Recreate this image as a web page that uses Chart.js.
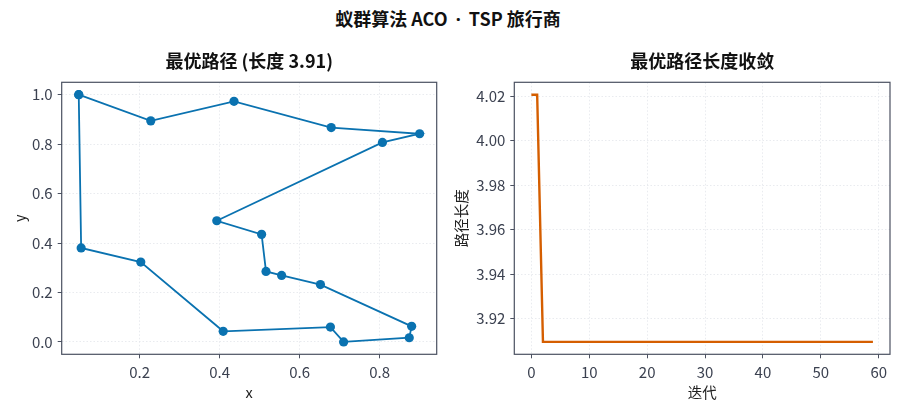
<!DOCTYPE html>
<html>
<head>
<meta charset="utf-8">
<script src="https://cdn.jsdelivr.net/npm/chart.js@4.4.1/dist/chart.umd.min.js"></script>
<style>
  body { margin: 0; background: #fff; }
  #page { position: relative; width: 900px; height: 411px; overflow: hidden; }
  #suptitle {
    position: absolute; left: 0; top: 5px; width: 896px; text-align: center;
    font-family: "Noto Sans CJK SC", "Noto Sans", sans-serif; font-weight: bold;
    font-size: 18px; color: #111;
  }
  #suptitle .dot { font-family: "Noto Sans", sans-serif; margin: 0 4px; }
  .panel { position: absolute; top: 40px; width: 450px; height: 371px; }
</style>
</head>
<body>
<div id="page">
  <div id="suptitle">蚁群算法 ACO <span class="dot">·</span> TSP 旅行商</div>
  <div class="panel" style="left:0"><canvas id="routeChart" width="450" height="371"></canvas></div>
  <div class="panel" style="left:450px"><canvas id="convChart" width="450" height="371"></canvas></div>
</div>
<script>
// best tour, in visiting order (first city repeated to close the loop)
const routeX = [0.048, 0.228, 0.436, 0.679, 0.900, 0.807, 0.393, 0.505, 0.516, 0.555,
                0.652, 0.880, 0.874, 0.710, 0.677, 0.409, 0.203, 0.054, 0.048];
const routeY = [1.000, 0.894, 0.973, 0.867, 0.842, 0.807, 0.490, 0.435, 0.285, 0.269,
                0.232, 0.063, 0.017, 0.000, 0.060, 0.043, 0.323, 0.380, 1.000];

// best length per iteration (60 iterations)
const bestLen = [4.0207, 4.0207, 3.9096, 3.9096, 3.9096, 3.9096, 3.9096, 3.9096, 3.9096, 3.9096,
                 3.9096, 3.9096, 3.9096, 3.9096, 3.9096, 3.9096, 3.9096, 3.9096, 3.9096, 3.9096,
                 3.9096, 3.9096, 3.9096, 3.9096, 3.9096, 3.9096, 3.9096, 3.9096, 3.9096, 3.9096,
                 3.9096, 3.9096, 3.9096, 3.9096, 3.9096, 3.9096, 3.9096, 3.9096, 3.9096, 3.9096,
                 3.9096, 3.9096, 3.9096, 3.9096, 3.9096, 3.9096, 3.9096, 3.9096, 3.9096, 3.9096,
                 3.9096, 3.9096, 3.9096, 3.9096, 3.9096, 3.9096, 3.9096, 3.9096, 3.9096, 3.9096];

const routeXTicks = [0.2, 0.4, 0.6, 0.8];
const routeYTicks = [0.0, 0.2, 0.4, 0.6, 0.8, 1.0];
const convXTicks = [0, 10, 20, 30, 40, 50, 60];
const convYTicks = [3.92, 3.94, 3.96, 3.98, 4.00, 4.02];

const routeTitle = '最优路径 (长度 3.91)';
const convTitle = '最优路径长度收敛';

const FONT = '"Noto Sans CJK SC", "Noto Sans", sans-serif';
const tickColor = '#3b4150';
const frameColor = '#4b5161';

// box around the plot area plus a title centred over it (matplotlib style)
const framePlugin = {
  id: 'frame',
  afterDraw(chart, args, opts) {
    const a = chart.chartArea, ctx = chart.ctx;
    ctx.save();
    ctx.strokeStyle = frameColor;
    ctx.lineWidth = 1.2;
    ctx.strokeRect(a.left, a.top, a.right - a.left, a.bottom - a.top);
    ctx.fillStyle = '#111';
    ctx.font = 'bold 18px ' + FONT;
    ctx.textAlign = 'center';
    ctx.textBaseline = 'middle';
    ctx.fillText(opts.text, (a.left + a.right) / 2, 21.5);
    ctx.restore();
  }
};

function axis(opts) {
  return {
    type: 'linear',
    min: opts.min,
    max: opts.max,
    afterBuildTicks: ax => { ax.ticks = opts.ticks.map(v => ({ value: v })); },
    afterFit: ax => {
      if (opts.width !== undefined) ax.width = opts.width;
      if (opts.height !== undefined) ax.height = opts.height;
    },
    grid: { color: '#e3e6eb', lineWidth: 0.8, tickLength: 4, tickColor: frameColor, tickWidth: 1 },
    border: { display: false, dash: [1.5, 2] },
    ticks: {
      color: tickColor, padding: 5,
      font: { family: FONT, size: 15 },
      callback: opts.fmt
    },
    title: {
      display: true, text: opts.title, color: '#222',
      font: { family: FONT, size: 14.5 },
      padding: opts.titlePad
    }
  };
}

const routePoints = routeX.map((x, i) => ({ x: x, y: routeY[i] }));

new Chart(document.getElementById('routeChart'), {
  type: 'scatter',
  data: {
    datasets: [{
      data: routePoints,
      showLine: true,
      borderColor: '#0a72b0',
      borderWidth: 1.8,
      pointRadius: 4.6,
      pointBackgroundColor: '#0a72b0',
      pointBorderWidth: 0,
      clip: false
    }]
  },
  options: {
    responsive: false,
    animation: false,
    layout: { padding: { left: 0, right: 13.3, top: 42.3, bottom: 0 } },
    plugins: { legend: { display: false }, tooltip: { enabled: false }, frame: { text: routeTitle } },
    scales: {
      x: axis({ min: 0.0054, max: 0.9426, ticks: routeXTicks, height: 56.7, title: 'x',
                titlePad: { top: 0, bottom: 9.6 }, fmt: v => v.toFixed(1) }),
      y: axis({ min: -0.05, max: 1.05, ticks: routeYTicks, width: 61.7, title: 'y',
                titlePad: { top: 10.6, bottom: 0 }, fmt: v => v.toFixed(1) })
    }
  },
  plugins: [framePlugin]
});

const convPoints = bestLen.map((v, i) => ({ x: i, y: v }));

new Chart(document.getElementById('convChart'), {
  type: 'line',
  data: {
    datasets: [{
      data: convPoints,
      borderColor: '#d55e00',
      borderWidth: 2.4,
      pointRadius: 0,
      tension: 0,
      fill: false
    }]
  },
  options: {
    responsive: false,
    animation: false,
    layout: { padding: { left: 0, right: 10, top: 42.3, bottom: 0 } },
    plugins: { legend: { display: false }, tooltip: { enabled: false }, frame: { text: convTitle } },
    scales: {
      x: axis({ min: -2.95, max: 61.95, ticks: convXTicks, height: 56.7, title: '迭代',
                titlePad: { top: 0, bottom: 10 }, fmt: v => String(v) }),
      y: axis({ min: 3.9040, max: 4.0263, ticks: convYTicks, width: 64.3, title: '路径长度',
                titlePad: { top: 2.6, bottom: 0 }, fmt: v => v.toFixed(2) })
    }
  },
  plugins: [framePlugin]
});
</script>
</body>
</html>
